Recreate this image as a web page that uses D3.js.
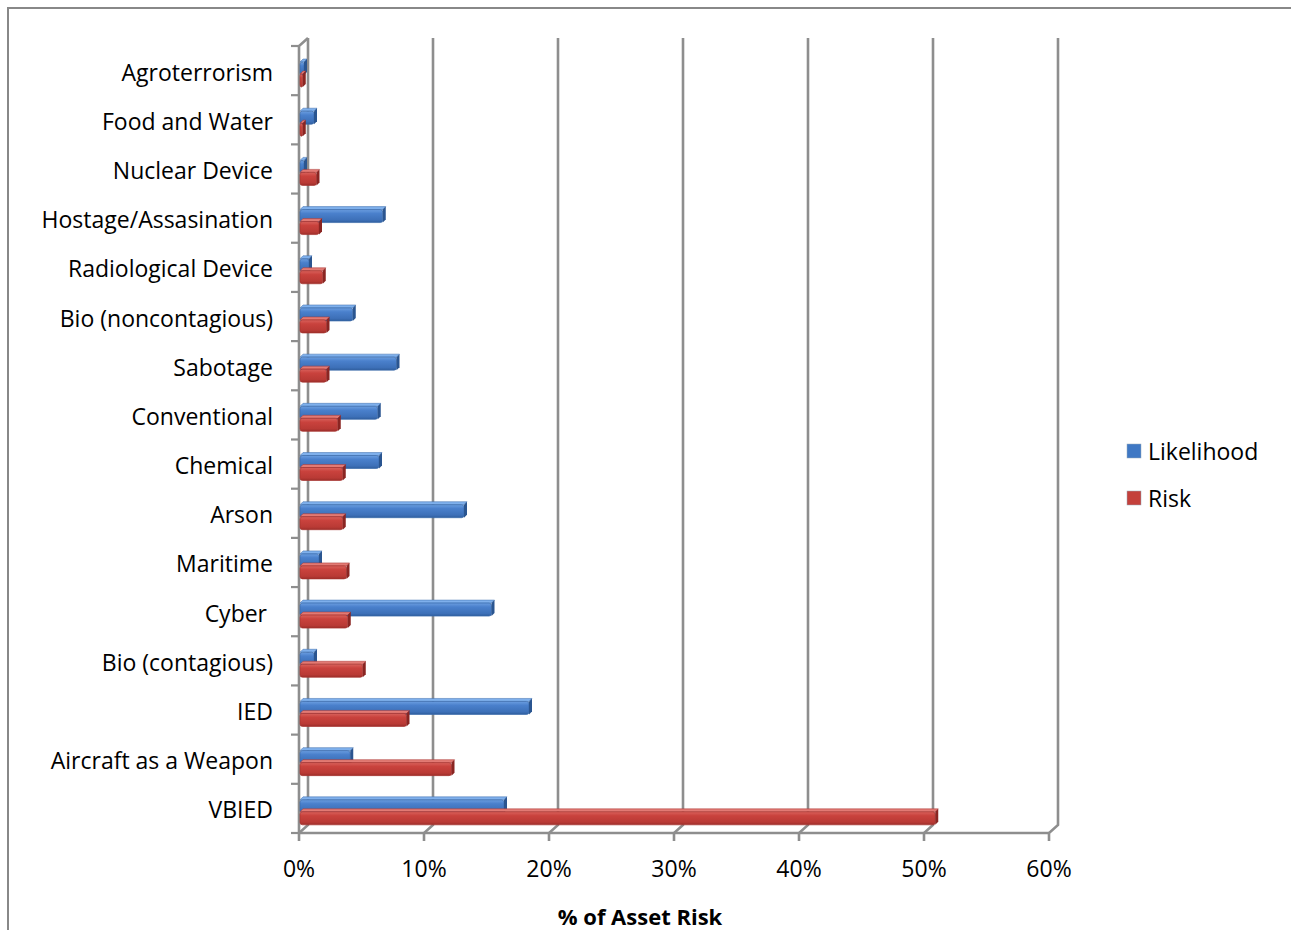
<!DOCTYPE html>
<html>
<head>
<meta charset="utf-8">
<script src="https://cdnjs.cloudflare.com/ajax/libs/d3/7.8.5/d3.min.js"></script>
<style>
  html, body { margin: 0; padding: 0; background: #fff; }
  svg { display: block; }
  text { font-family: "Open Sans", "Noto Sans", sans-serif; fill: #000; white-space: pre; }
</style>
</head>
<body>
<svg id="chart" width="1291" height="930"></svg>
<script>
// Threat categories, top to bottom
const categories = [
  "Agroterrorism", "Food and Water", "Nuclear Device", "Hostage/Assasination",
  "Radiological Device", "Bio (noncontagious)", "Sabotage", "Conventional",
  "Chemical", "Arson", "Maritime", "Cyber ", "Bio (contagious)", "IED",
  "Aircraft as a Weapon", "VBIED"
];
// Percent of asset risk per category
const likelihood = [0.4, 1.2, 0.4, 6.7, 0.8, 4.3, 7.8, 6.3, 6.4, 13.2, 1.6, 15.4, 1.2, 18.4, 4.1, 16.4];
const risk       = [0.3, 0.3, 1.4, 1.6, 1.9, 2.2, 2.2, 3.1, 3.5, 3.5, 3.8, 3.9, 5.1, 8.6, 12.2, 50.9];
const xTicks = [0, 10, 20, 30, 40, 50, 60];
const xTickLabels = ["0%", "10%", "20%", "30%", "40%", "50%", "60%"];
const seriesNames = ["Likelihood", "Risk"];

const svg = d3.select("#chart");

// Chart frame
svg.append("rect")
  .attr("x", 8).attr("y", 8).attr("width", 1300).attr("height", 940)
  .attr("fill", "#fff").attr("stroke", "#888").attr("stroke-width", 2);

// Plot geometry: front plane and 3-D depth offset of the back wall
const x0 = 299, x1 = 1049, yTop = 46, yBot = 833;
const dx = 9, dy = -8;
const x = d3.scaleLinear().domain([0, 60]).range([x0, x1]);
const y = d3.scaleBand().domain(categories).range([yTop, yBot]);

const gridColor = "#8e8e8e";

// Back-wall gridlines with floor connectors and front ticks
const grid = svg.append("g");
xTicks.forEach(t => {
  const xf = x(t), xb = x(t) + dx;
  grid.append("path")
    .attr("d", `M${xb},${yTop + dy} L${xb},${yBot + dy} L${xf},${yBot} L${xf},${yBot + 8}`)
    .attr("fill", "none").attr("stroke", gridColor).attr("stroke-width", 2.6);
});
// Floor front edge
grid.append("line")
  .attr("x1", x0).attr("x2", x1).attr("y1", yBot).attr("y2", yBot)
  .attr("stroke", gridColor).attr("stroke-width", 2.6);
// Left wall front edge and its top connector
grid.append("path")
  .attr("d", `M${x0},${yBot} L${x0},${yTop} L${x0 + dx},${yTop + dy}`)
  .attr("fill", "none").attr("stroke", gridColor).attr("stroke-width", 2.6);
// Category ticks
d3.range(categories.length + 1).forEach(i => {
  const yy = yTop + i * y.step();
  grid.append("line")
    .attr("x1", x0 - 8).attr("x2", x0).attr("y1", yy).attr("y2", yy)
    .attr("stroke", gridColor).attr("stroke-width", 2.2);
});

// Gradients for the 3-D bar faces
const defs = svg.append("defs");
function faceGradient(id, stops) {
  const g = defs.append("linearGradient").attr("id", id)
    .attr("x1", 0).attr("y1", 0).attr("x2", 0).attr("y2", 1);
  stops.forEach(([o, c]) => g.append("stop").attr("offset", o).attr("stop-color", c));
}
faceGradient("blueFace", [[0, "#6b9ee0"], [0.3, "#4a80cc"], [0.8, "#3d70b8"], [1, "#2f5e9e"]]);
faceGradient("redFace", [[0, "#d9625c"], [0.3, "#c9423d"], [0.8, "#b93a35"], [1, "#9c2e2a"]]);

const series = [
  { name: seriesNames[0], values: likelihood, off: 16, face: "url(#blueFace)", top: "#7fb0ec", cap: "#2a5590", edge: "#3a6aaa", swatch: "#3f78c4" },
  { name: seriesNames[1], values: risk, off: 28, face: "url(#redFace)", top: "#e27a74", cap: "#8a2522", edge: "#a8332f", swatch: "#c4403b" }
];
const barH = 13, bdx = 3, bdy = -3;

series.forEach(s => {
  const g = svg.append("g");
  categories.forEach((c, i) => {
    const v = s.values[i];
    const yb = y(c) + s.off;
    const xs = x(0) + 1, xe = x(v);
    // top face
    g.append("path")
      .attr("d", `M${xs},${yb} L${xe},${yb} L${xe + bdx},${yb + bdy} L${xs + bdx},${yb + bdy} Z`)
      .attr("fill", s.top).attr("stroke", s.edge).attr("stroke-width", 0.5);
    // front face
    g.append("rect")
      .attr("x", xs).attr("y", yb).attr("width", Math.max(0.5, xe - xs)).attr("height", barH)
      .attr("rx", 2.5).attr("fill", s.face).attr("stroke", s.edge).attr("stroke-width", 0.7);
    // end cap
    g.append("path")
      .attr("d", `M${xe},${yb} L${xe + bdx},${yb + bdy} L${xe + bdx},${yb + barH + bdy} L${xe},${yb + barH} Z`)
      .attr("fill", s.cap);
  });
});

// Category labels
svg.append("g").selectAll("text").data(categories).join("text")
  .attr("x", 273).attr("y", d => y(d) + y.bandwidth() / 2 + 1)
  .attr("text-anchor", "end").attr("dominant-baseline", "central")
  .attr("font-size", 23).text(d => d);

// Value axis labels
svg.append("g").selectAll("text").data(xTicks).join("text")
  .attr("x", d => x(d)).attr("y", 877)
  .attr("text-anchor", "middle").attr("font-size", 23)
  .text((d, i) => xTickLabels[i]);

// Axis title
svg.append("text").attr("x", 640).attr("y", 925)
  .attr("text-anchor", "middle").attr("font-size", 22).attr("font-weight", "bold")
  .text("% of Asset Risk");

// Legend
const legend = svg.append("g");
series.forEach((s, i) => {
  const ly = 450 + i * 47;
  legend.append("rect").attr("x", 1127).attr("y", ly - 6).attr("width", 14).attr("height", 14)
    .attr("fill", s.swatch).attr("stroke", "#9ab").attr("stroke-width", 0.5);
  legend.append("text").attr("x", 1148).attr("y", ly + 1)
    .attr("dominant-baseline", "central").attr("font-size", 23).text(s.name);
});
</script>
</body>
</html>
